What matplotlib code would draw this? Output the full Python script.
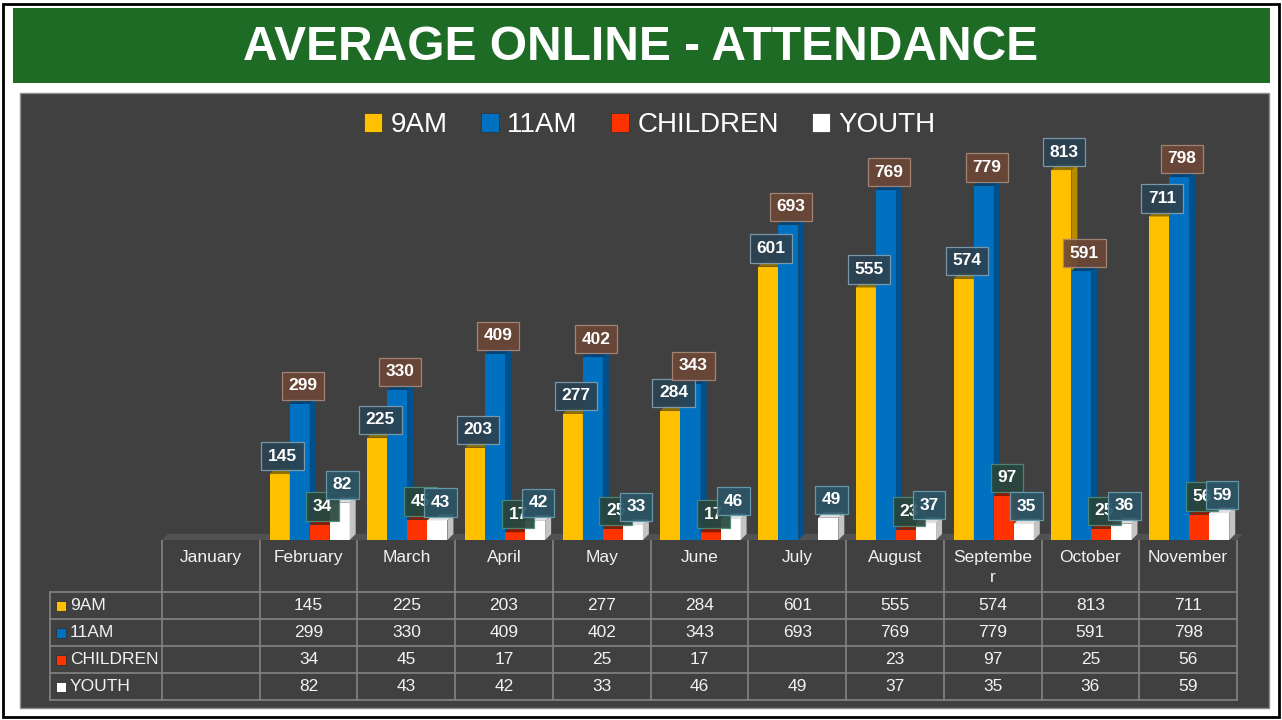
import numpy as np
import matplotlib
matplotlib.use("Agg")
import matplotlib.pyplot as plt
from matplotlib.patches import Rectangle, Polygon, Patch

# ---------------- data ----------------
months = ["January", "February", "March", "April", "May", "June", "July",
          "August", "Septembe\nr", "October", "November"]
series_names = ["9AM", "11AM", "CHILDREN", "YOUTH"]
am9 = [np.nan, 145, 225, 203, 277, 284, 601, 555, 574, 813, 711]
am11 = [np.nan, 299, 330, 409, 402, 343, 693, 769, 779, 591, 798]
children = [np.nan, 34, 45, 17, 25, 17, np.nan, 23, 97, 25, 56]
youth = [np.nan, 82, 43, 42, 33, 46, 49, 37, 35, 36, 59]

# ---------------- styles ----------------
front_cols = ["#FFC000", "#0070C0", "#FF3300", "#FFFFFF"]
side_cols = ["#B88A00", "#00508C", "#B02400", "#C4C4C4"]
top_cols = ["#8F6F00", "#004478", "#8A1C00", "#E2E2E2"]
lab_face = ["#2C4352", "#6B4737", "#27463D", "#2C5566"]
lab_edge = ["#7F9FB2", "#A8897A", "#4F8A7A", "#6A9FB2"]
FONT = ["Liberation Sans", "DejaVu Sans"]

W, H = 1282, 720
fig = plt.figure(figsize=(W / 100, H / 100), dpi=100)
fig.patch.set_facecolor("white")

bg = fig.add_axes([0, 0, 1, 1], zorder=0)
bg.set_xlim(0, W)
bg.set_ylim(H, 0)
bg.axis("off")

# frame, banner, panel
bg.add_patch(Rectangle((3, 4), 1276, 713, fill=False, ec="black", lw=2))
bg.add_patch(Rectangle((13, 8), 1257, 75, fc="#1D6B25", ec="none"))
bg.text(641, 47, "AVERAGE ONLINE - ATTENDANCE", ha="center", va="center",
        color="white", fontsize=34.5, fontweight="bold",
        family=["Liberation Sans", "DejaVu Sans"])
bg.add_patch(Rectangle((20, 93), 1249, 615, fc="#404040", ec="#8C8C8C", lw=1))

# ---------------- chart ----------------
X0, X1 = 162, 1237
BASE, TOP = 540, 100
PX_PER_UNIT = 0.455
n = len(months)
colw = (X1 - X0) / n
ymax = (BASE - TOP) / PX_PER_UNIT

ax = fig.add_axes([X0 / W, (H - BASE) / H, (X1 - X0) / W, (BASE - TOP) / H], zorder=2)
ax.set_xlim(-0.5, n - 0.5)
ax.set_ylim(0, ymax)
ax.axis("off")
ax.patch.set_alpha(0)

ddx = 6 / colw
ddy = 6 / PX_PER_UNIT

# floor
ax.add_patch(Polygon([(-0.5, 0), (n - 0.5, 0), (n - 0.5 + ddx, ddy), (-0.5 + ddx, ddy)],
                     closed=True, fc="#525252", ec="none", zorder=1, clip_on=False))

data = [am9, am11, children, youth]
width = 0.205
offsets = [-0.297, -0.092, 0.113, 0.318]
x = np.arange(n)

for k, vals in enumerate(data):
    vals = np.array(vals, dtype=float)
    xs = x + offsets[k]
    mask = ~np.isnan(vals)
    ax.bar(xs[mask], vals[mask], width=width, color=front_cols[k],
           edgecolor="none", zorder=3 + k)
    for xc, v in zip(xs[mask], vals[mask]):
        x0b, x1b = xc - width / 2, xc + width / 2
        ax.add_patch(Polygon([(x1b, 0), (x1b + ddx, ddy), (x1b + ddx, v + ddy), (x1b, v)],
                             closed=True, fc=side_cols[k], ec="none", zorder=3 + k))
        ax.add_patch(Polygon([(x0b, v), (x1b, v), (x1b + ddx, v + ddy), (x0b + ddx, v + ddy)],
                             closed=True, fc=top_cols[k], ec="none", zorder=3 + k))

for k, vals in enumerate(data):
    vals = np.array(vals, dtype=float)
    xs = x + offsets[k]
    for xc, v in zip(xs, vals):
        if np.isnan(v):
            continue
        ax.annotate(f"{int(v)}", xy=(xc, v), xytext=(3, 18), textcoords="offset pixels",
                    ha="center", va="center", color="white", fontsize=12.5,
                    fontweight="bold", family=FONT, zorder=20 + k,
                    bbox=dict(boxstyle="square,pad=0.38", fc=lab_face[k],
                              ec=lab_edge[k], lw=0.9, alpha=0.92))

handles = [Patch(facecolor=front_cols[k], edgecolor="#303030", lw=0.5, label=series_names[k])
           for k in range(4)]
ax.legend(handles=handles, loc="center", bbox_to_anchor=(650 / W, 1 - 125 / H),
          bbox_transform=fig.transFigure, ncol=4, frameon=False,
          prop=dict(family=FONT, size=20), labelcolor="white",
          handlelength=0.65, handleheight=0.65, handletextpad=0.3, columnspacing=1.2)

# ---------------- data table ----------------
LINE = "#7F7F7F"
TXT = "#F2F2F2"
LX = 50
row_top = 592
row_h = 27
nrows = len(data)
tab_bottom = row_top + nrows * row_h

for i in range(n + 1):
    xb = X0 + i * colw
    bg.plot([xb, xb], [BASE + 1, tab_bottom], color=LINE, lw=1.3, zorder=3)
bg.plot([LX, LX], [row_top, tab_bottom], color=LINE, lw=1.3, zorder=3)
for r in range(nrows + 1):
    yb = row_top + r * row_h
    bg.plot([LX, X1], [yb, yb], color=LINE, lw=1.3, zorder=3)

for i, m in enumerate(months):
    bg.text(X0 + (i + 0.5) * colw, 550, m, ha="center", va="top", color=TXT,
            fontsize=12.5, family=FONT, linespacing=1.4, zorder=4)

for r, vals in enumerate(data):
    yc = row_top + (r + 0.5) * row_h
    bg.add_patch(Rectangle((56, yc - 5), 10, 10, fc=front_cols[r], ec="#303030", lw=0.6, zorder=4))
    bg.text(70, yc, series_names[r], ha="left", va="center", color=TXT,
            fontsize=12.5, family=FONT, zorder=4)
    for i, v in enumerate(vals):
        if np.isnan(v):
            continue
        bg.text(X0 + (i + 0.5) * colw, yc, f"{int(v)}", ha="center", va="center",
                color=TXT, fontsize=12.5, family=FONT, zorder=4)

fig.savefig("out.png", dpi=100, facecolor=fig.get_facecolor())
